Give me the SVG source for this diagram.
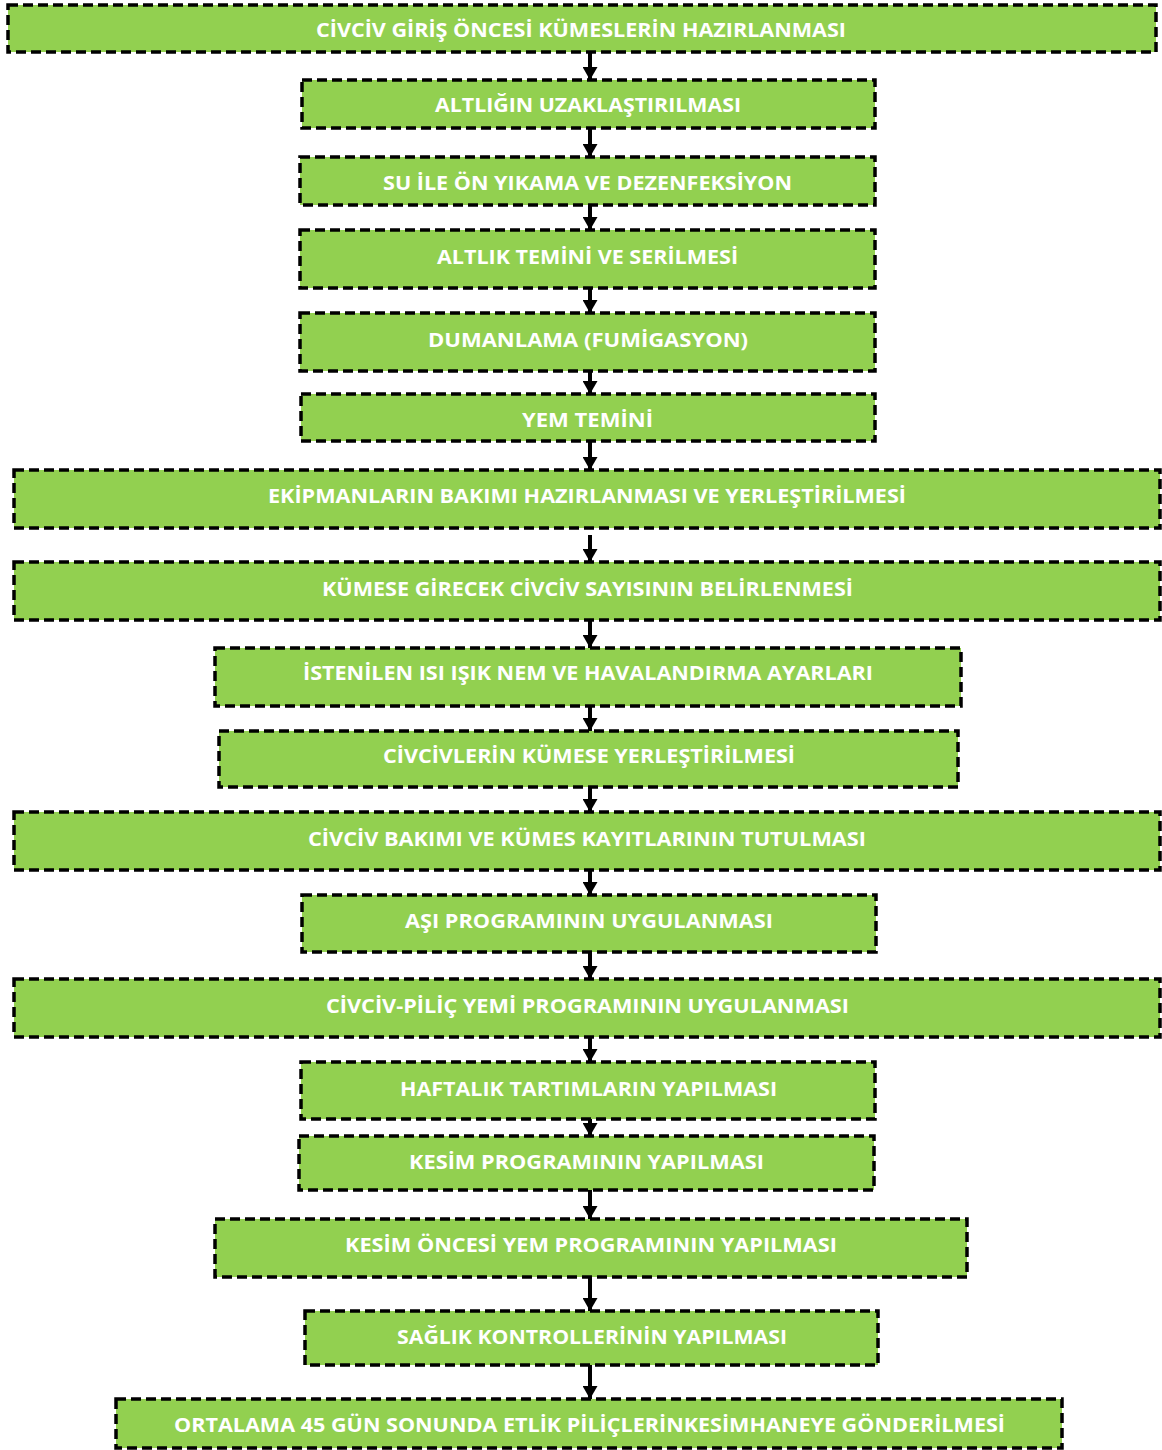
<svg xmlns="http://www.w3.org/2000/svg" width="1162" height="1450" viewBox="0 0 1162 1450">
<defs>
<style>
.box{fill:#92D050;stroke:#000;stroke-width:3.5;stroke-dasharray:10 5;}
.t{font-family:"Open Sans","Liberation Sans",sans-serif;font-weight:bold;font-size:20px;fill:#fff;text-anchor:middle;}
.c{stroke:#000;stroke-width:4;fill:none;marker-end:url(#ah);}
</style>
<marker id="ah" markerUnits="userSpaceOnUse" markerWidth="15" markerHeight="15" refX="13" refY="7.5" orient="auto" viewBox="0 0 14 15">
<path d="M0,0 L13,7.5 L0,15 z" fill="#000"/>
</marker>
</defs>
<rect width="1162" height="1450" fill="#fff"/>
<g id="connectors">
<line class="c" x1="590" y1="52" x2="590" y2="80"/>
<line class="c" x1="590" y1="128" x2="590" y2="157"/>
<line class="c" x1="590" y1="205" x2="590" y2="230"/>
<line class="c" x1="590" y1="288" x2="590" y2="313"/>
<line class="c" x1="590" y1="371" x2="590" y2="394"/>
<line class="c" x1="590" y1="441" x2="590" y2="470"/>
<line class="c" x1="590" y1="535" x2="590" y2="562"/>
<line class="c" x1="590" y1="620" x2="590" y2="648"/>
<line class="c" x1="590" y1="706" x2="590" y2="731"/>
<line class="c" x1="590" y1="787" x2="590" y2="812"/>
<line class="c" x1="590" y1="870" x2="590" y2="895"/>
<line class="c" x1="590" y1="952" x2="590" y2="979"/>
<line class="c" x1="590" y1="1037" x2="590" y2="1062"/>
<line class="c" x1="590" y1="1119" x2="590" y2="1136"/>
<line class="c" x1="590" y1="1190" x2="590" y2="1219"/>
<line class="c" x1="590" y1="1277" x2="590" y2="1311"/>
<line class="c" x1="590" y1="1365" x2="590" y2="1399"/>
</g>
<g id="n1"><rect class="box" x="8" y="5" width="1148" height="47"/><text class="t" x="581" y="37" textLength="530" lengthAdjust="spacingAndGlyphs">CİVCİV GİRİŞ ÖNCESİ KÜMESLERİN HAZIRLANMASI</text></g>
<g id="n2"><rect class="box" x="302" y="80" width="573" height="48"/><text class="t" x="588" y="112" textLength="306" lengthAdjust="spacingAndGlyphs">ALTLIĞIN UZAKLAŞTIRILMASI</text></g>
<g id="n3"><rect class="box" x="300" y="157" width="575" height="48"/><text class="t" x="587.5" y="190" textLength="409" lengthAdjust="spacingAndGlyphs">SU İLE ÖN YIKAMA VE DEZENFEKSİYON</text></g>
<g id="n4"><rect class="box" x="300" y="230" width="575" height="58"/><text class="t" x="587.5" y="264" textLength="301" lengthAdjust="spacingAndGlyphs">ALTLIK TEMİNİ VE SERİLMESİ</text></g>
<g id="n5"><rect class="box" x="300" y="313" width="575" height="58"/><text class="t" x="588" y="347" textLength="320" lengthAdjust="spacingAndGlyphs">DUMANLAMA (FUMİGASYON)</text></g>
<g id="n6"><rect class="box" x="301" y="394" width="574" height="47"/><text class="t" x="587.5" y="427" textLength="131" lengthAdjust="spacingAndGlyphs">YEM TEMİNİ</text></g>
<g id="n7"><rect class="box" x="14" y="470" width="1146" height="58"/><text class="t" x="587" y="503" textLength="638" lengthAdjust="spacingAndGlyphs">EKİPMANLARIN BAKIMI HAZIRLANMASI VE YERLEŞTİRİLMESİ</text></g>
<g id="n8"><rect class="box" x="14" y="562" width="1146" height="58"/><text class="t" x="587.5" y="596" textLength="531" lengthAdjust="spacingAndGlyphs">KÜMESE GİRECEK CİVCİV SAYISININ BELİRLENMESİ</text></g>
<g id="n9"><rect class="box" x="215" y="648" width="746" height="58"/><text class="t" x="588" y="680" textLength="570" lengthAdjust="spacingAndGlyphs">İSTENİLEN ISI IŞIK NEM VE HAVALANDIRMA AYARLARI</text></g>
<g id="n10"><rect class="box" x="219" y="731" width="739" height="56"/><text class="t" x="589" y="763" textLength="412" lengthAdjust="spacingAndGlyphs">CİVCİVLERİN KÜMESE YERLEŞTİRİLMESİ</text></g>
<g id="n11"><rect class="box" x="14" y="812" width="1146" height="58"/><text class="t" x="587" y="846" textLength="558" lengthAdjust="spacingAndGlyphs">CİVCİV BAKIMI VE KÜMES KAYITLARININ TUTULMASI</text></g>
<g id="n12"><rect class="box" x="302" y="895" width="574" height="57"/><text class="t" x="589" y="928" textLength="368" lengthAdjust="spacingAndGlyphs">AŞI PROGRAMININ UYGULANMASI</text></g>
<g id="n13"><rect class="box" x="14" y="979" width="1146" height="58"/><text class="t" x="587.5" y="1013" textLength="523" lengthAdjust="spacingAndGlyphs">CİVCİV-PİLİÇ YEMİ PROGRAMININ UYGULANMASI</text></g>
<g id="n14"><rect class="box" x="301" y="1062" width="574" height="57"/><text class="t" x="588.5" y="1096" textLength="377" lengthAdjust="spacingAndGlyphs">HAFTALIK TARTIMLARIN YAPILMASI</text></g>
<g id="n15"><rect class="box" x="299" y="1136" width="575" height="54"/><text class="t" x="586.5" y="1169" textLength="355" lengthAdjust="spacingAndGlyphs">KESİM PROGRAMININ YAPILMASI</text></g>
<g id="n16"><rect class="box" x="215" y="1219" width="752" height="58"/><text class="t" x="591" y="1252" textLength="492" lengthAdjust="spacingAndGlyphs">KESİM ÖNCESİ YEM PROGRAMININ YAPILMASI</text></g>
<g id="n17"><rect class="box" x="305" y="1311" width="573" height="54"/><text class="t" x="592" y="1344" textLength="390" lengthAdjust="spacingAndGlyphs">SAĞLIK KONTROLLERİNİN YAPILMASI</text></g>
<g id="n18"><rect class="box" x="116" y="1399" width="946" height="49"/><text class="t" x="589.5" y="1432" textLength="831" lengthAdjust="spacingAndGlyphs">ORTALAMA 45 GÜN SONUNDA ETLİK PİLİÇLERİNKESİMHANEYE GÖNDERİLMESİ</text></g>
</svg>
